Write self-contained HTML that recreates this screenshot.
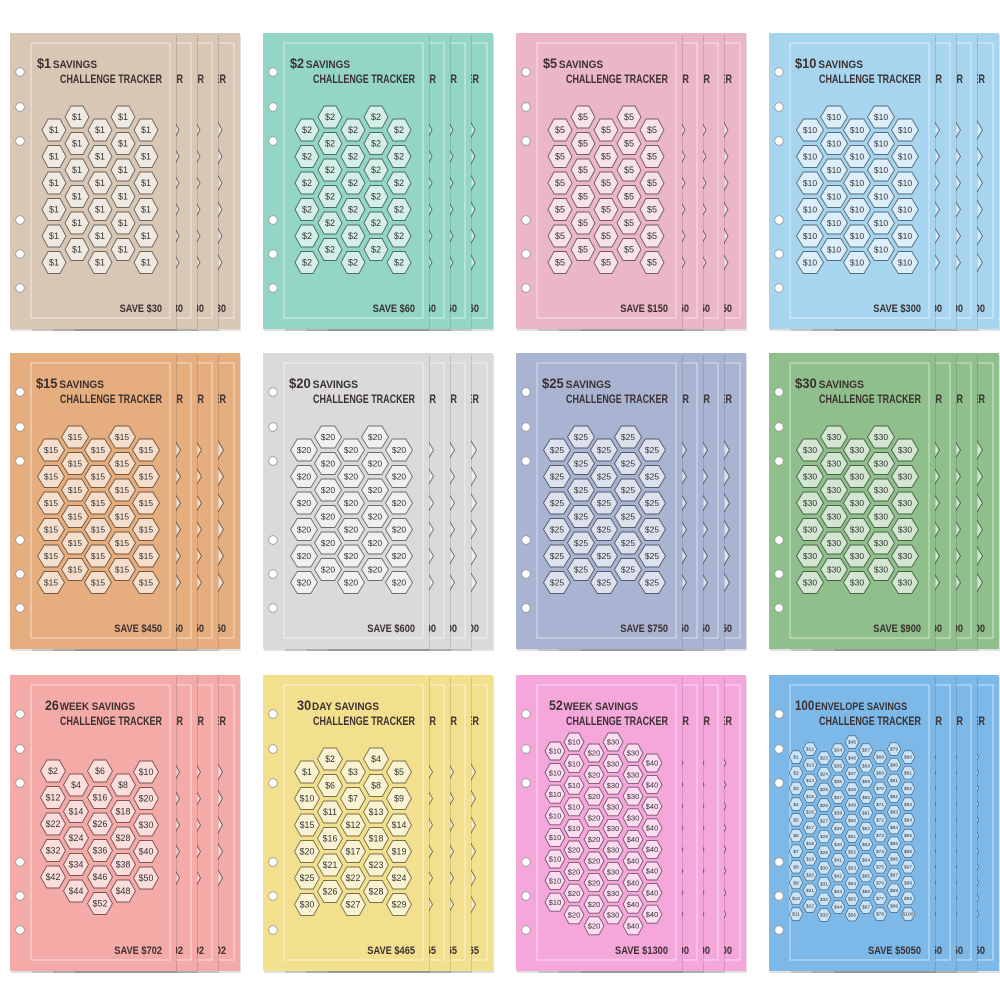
<!DOCTYPE html>
<html><head><meta charset="utf-8"><style>
html,body{margin:0;padding:0;background:#fff;width:1000px;height:1000px;overflow:hidden}
svg{display:block}
</style></head><body>
<svg id="s" width="1000" height="1000" xmlns="http://www.w3.org/2000/svg"></svg>
<script>
var NS="http://www.w3.org/2000/svg";
function hex(c){c=c.replace('#','');return [parseInt(c.substr(0,2),16),parseInt(c.substr(2,2),16),parseInt(c.substr(4,2),16)];}
function mix(c,t,a){var p=hex(c),q=hex(t);return 'rgb('+p.map(function(v,i){return Math.round(v*(1-a)+q[i]*a)}).join(',')+')';}
var cards=[
 {c:'#d9c7b6',n:'$1',t:'SAVINGS',tx:27,tl:60,save:'SAVE $30',type:'b',v:'$1',hw:24},
 {c:'#94d6c6',n:'$2',t:'SAVINGS',tx:27,tl:60,save:'SAVE $60',type:'b',v:'$2',hw:24},
 {c:'#ebb6c6',n:'$5',t:'SAVINGS',tx:27,tl:60,save:'SAVE $150',type:'b',v:'$5',hw:24},
 {c:'#a7d5ef',n:'$10',t:'SAVINGS',tx:26,tl:68,save:'SAVE $300',type:'b',v:'$10',hw:27},
 {c:'#e6ad7e',n:'$15',t:'SAVINGS',tx:26,tl:68,save:'SAVE $450',type:'b',v:'$15',hw:27},
 {c:'#dadada',n:'$20',t:'SAVINGS',tx:26,tl:69,save:'SAVE $600',type:'b',v:'$20',hw:27},
 {c:'#a8b4d1',n:'$25',t:'SAVINGS',tx:26,tl:69,save:'SAVE $750',type:'b',v:'$25',hw:27},
 {c:'#8fc08c',n:'$30',t:'SAVINGS',tx:26,tl:69,save:'SAVE $900',type:'b',v:'$30',hw:27},
 {c:'#f4aaa7',n:'26',t:'WEEK SAVINGS',tx:35,tl:90,save:'SAVE $702',type:'w26'},
 {c:'#f3e08f',n:'30',t:'DAY SAVINGS',tx:34,tl:82,save:'SAVE $465',type:'d30'},
 {c:'#f5a7dc',n:'52',t:'WEEK SAVINGS',tx:33,tl:89,save:'SAVE $1300',type:'w52'},
 {c:'#7cb9e8',n:'100',t:'ENVELOPE SAVINGS',tx:26,tl:112,save:'SAVE $5050',type:'e100'}
];
var OX=[10,263,516,769],OY=[33,353,675];
var s=document.getElementById('s');
function el(tag,attrs,parent,text){var e=document.createElementNS(NS,tag);for(var k in attrs)e.setAttribute(k,attrs[k]);if(text!==undefined)e.textContent=text;(parent||s).appendChild(e);return e;}
function hexagon(g,cx,cy,w,h,fill,stroke,label,fs,tc){
 var pts=[[cx-w/2,cy],[cx-w/4,cy-h/2],[cx+w/4,cy-h/2],[cx+w/2,cy],[cx+w/4,cy+h/2],[cx-w/4,cy+h/2]].map(function(p){return p[0].toFixed(1)+','+p[1].toFixed(1)}).join(' ');
 el('polygon',{points:pts,fill:fill,stroke:stroke,'stroke-width':w<16?0.6:0.9},g);
 el('text',{x:cx,y:cy+fs*0.36,'text-anchor':'middle','font-size':fs,'font-family':'Liberation Sans, sans-serif',fill:tc},g,label);
}
function cells(card){
 var out=[];
 if(card.type=='b'||card.type=='d30'){
  var xs=[44,67,90,113,136];
  if(card.hw==27) xs=[41,65,88,112,136];
  var d=[[1,10,15,20,25,30],[2,6,11,16,21,26],[3,7,12,17,22,27],[4,8,13,18,23,28],[5,9,14,19,24,29]];
  for(var r=0;r<6;r++)for(var c=0;c<5;c++){
   var y=(c%2==0?97:84)+r*26.5;
   var lab=card.type=='d30'?'$'+d[c][r]:card.v;
   out.push([xs[c],y,lab]);
  }
 } else if(card.type=='w26'){
  var xs=[43,66,90,113,136];
  var v=[[2,12,22,32,42],[4,14,24,34,44],[6,16,26,36,46,52],[8,18,28,38,48],[10,20,30,40,50]];
  for(var c=0;c<5;c++)for(var r=0;r<v[c].length;r++){var y=(c%2==0?96:110)+r*26.5;if(c==4)y+=1;out.push([xs[c],y,'$'+v[c][r]]);}
 } else if(card.type=='w52'){
  var xs=[39,58,78,97,117,136],st=[76,67,78,67,78,88],cnt=[8,9,9,9,9,8];
  var vals=[[10,10,10,10,10,10,10,10],[10,10,10,10,10,20,20,20,20],[20,20,20,20,20,20,20,20,20],[30,30,30,30,30,30,30,30,30],[30,30,30,30,40,40,40,40,40],[40,40,40,40,40,40,40,40]];
  for(var c=0;c<6;c++)for(var r=0;r<cnt[c];r++)out.push([xs[c],st[c]+r*21.6,'$'+vals[c][r]]);
 } else {
  var xs=[27,41,55,69,83,97,111,125,139],st=[82,74,83,75,67,75,82,74,82],cnt=[11,11,11,11,12,11,11,11,11],k=1;
  for(var c=0;c<9;c++)for(var r=0;r<cnt[c];r++)out.push([xs[c],st[c]+r*15.7,'$'+(k++)]);
 }
 return out;
}
function drawCard(card,ox,oy){
 var g=el('g',{transform:'translate('+ox+','+oy+')'});
 el('rect',{x:1,y:2,width:166,height:296,fill:'rgba(0,0,0,0.12)'},g);
 el('rect',{x:0,y:0,width:166,height:296,fill:card.c},g);
 el('rect',{x:21,y:10,width:139,height:275,fill:'none',stroke:mix(card.c,'#ffffff',0.6),'stroke-width':1},g);
 [39,74,108,187,221,255].forEach(function(y){el('circle',{cx:10,cy:y,r:4.3,fill:'#fff',stroke:'#9a9a9a','stroke-width':0.8},g);});
 var tc='#3a3030';
 var t1=el('text',{x:card.tx,y:35,'font-family':'Liberation Sans, sans-serif','font-weight':'bold',fill:tc,'font-size':11,textLength:card.tl,lengthAdjust:'spacingAndGlyphs'},g);
 el('tspan',{'font-size':14},t1,card.n);
 el('tspan',{'font-size':11,dx:card.type=='b'?2:1},t1,card.t);
 el('text',{x:152,y:50,'text-anchor':'end','font-family':'Liberation Sans, sans-serif','font-weight':'bold','font-size':12,fill:tc,textLength:102,lengthAdjust:'spacingAndGlyphs'},g,'CHALLENGE TRACKER');
 var sl=card.save.length*5.3;
 el('text',{x:152,y:279,'text-anchor':'end','font-family':'Liberation Sans, sans-serif','font-weight':'bold','font-size':11,fill:tc,textLength:sl,lengthAdjust:'spacingAndGlyphs'},g,card.save);
 var fill=mix(card.c,'#ffffff',0.6),stroke=mix(card.c,'#000000',0.5);
 var w,h,fs;
 if(card.type=='w52'){w=20;h=18;fs=7.5;}
 else if(card.type=='e100'){w=13.5;h=12.5;fs=4.8;}
 else if(card.type=='b'){w=card.hw;h=22;fs=card.hw>25?8.5:9;}
 else {w=25;h=22;fs=8.8;}
 cells(card).forEach(function(p){hexagon(g,p[0],p[1],w,h,fill,stroke,p[2],fs,'#333');});
}
cards.forEach(function(card,i){
 var ox=OX[i%4],oy=OY[Math.floor(i/4)];
 [64,42,21,0].forEach(function(d){drawCard(card,ox+d,oy);});
});
</script>
</body></html>
